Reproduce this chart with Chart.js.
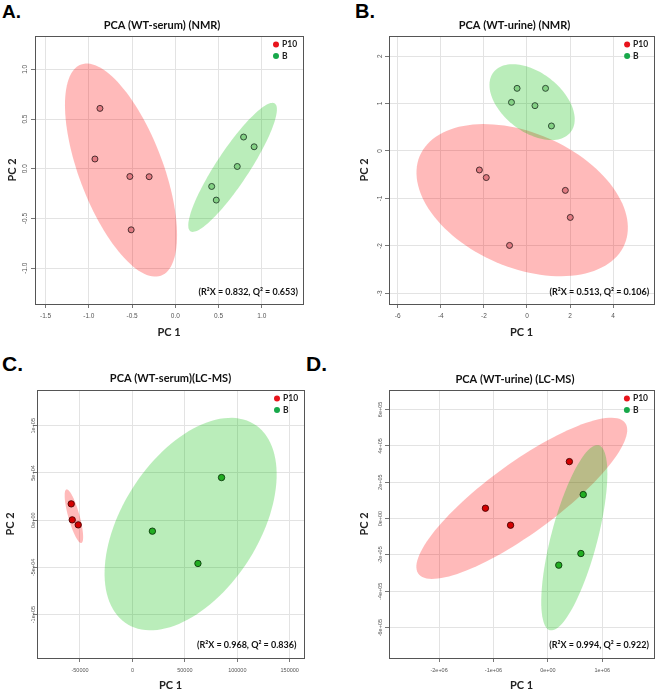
<!DOCTYPE html>
<html lang="en">
<head>
<meta charset="UTF-8">
<title>PCA score plots</title>
<script src="https://cdn.jsdelivr.net/npm/chart.js"></script>
<style>
  html, body { margin: 0; padding: 0; background: #fff; overflow: hidden; }
  #page { position: relative; width: 658px; height: 690px; }
  canvas { position: absolute; }
  .tag { position: absolute; font: bold 19px "Liberation Sans", Arial, sans-serif; color: #000; line-height: 1; }
</style>
</head>
<body>
<div id="page">
  <div class="tag" style="left:2px;top:2px">A.</div>
  <div class="tag" style="left:355px;top:1px;font-size:20px">B.</div>
  <div class="tag" style="left:2px;top:353px;font-size:21px">C.</div>
  <div class="tag" style="left:306px;top:353px;font-size:21px">D.</div>
  <canvas id="pcaA" width="329" height="345" style="left:0;top:0"></canvas>
  <canvas id="pcaB" width="329" height="345" style="left:329px;top:0"></canvas>
  <canvas id="pcaC" width="329" height="345" style="left:0;top:345px"></canvas>
  <canvas id="pcaD" width="329" height="345" style="left:329px;top:345px"></canvas>
</div>
<script>
// ---- scores (PC1 / PC2) ----
const serumNmrP10X = [-0.872, -0.93, -0.526, -0.303, -0.511];
const serumNmrP10Y = [0.607, 0.098, -0.078, -0.08, -0.614];
const serumNmrBX = [0.789, 0.911, 0.716, 0.42, 0.473];
const serumNmrBY = [0.319, 0.221, 0.023, -0.178, -0.315];

const urineNmrP10X = [-2.21, -1.89, 1.78, 2.01, -0.81];
const urineNmrP10Y = [-0.40, -0.56, -0.83, -1.40, -1.99];
const urineNmrBX = [-0.46, 0.86, -0.72, 0.37, 1.135];
const urineNmrBY = [1.32, 1.32, 1.025, 0.955, 0.527];

const serumLcP10X = [-58350, -57400, -51700];
const serumLcP10Y = [17280, 350, -4940];
const serumLcBX = [19020, 84970, 62460];
const serumLcBY = [-11640, 45150, -45860];

const urineLcP10X = [-1148000, -686000, 395000];
const urineLcP10Y = [56800, -36600, 313200];
const urineLcBX = [650000, 607000, 200000];
const urineLcBY = [131900, -192300, -256400];

// ---- axes ----
const serumNmrXTicks = [-1.5, -1, -0.5, 0, 0.5, 1];
const serumNmrYTicks = [-1, -0.5, 0, 0.5, 1];
const serumNmrXRange = [-1.623, 1.476];
const serumNmrYRange = [-1.36, 1.335];

const urineNmrXTicks = [-6, -4, -2, 0, 2, 4];
const urineNmrYTicks = [-3, -2, -1, 0, 1, 2];
const urineNmrXRange = [-6.405, 5.9];
const urineNmrYRange = [-3.224, 2.423];

const serumLcXTicks = [-50000, 0, 50000, 100000, 150000];
const serumLcYTicks = [-100000, -50000, 0, 50000, 100000];
const serumLcXRange = [-91000, 163600];
const serumLcYRange = [-146000, 137900];

const urineLcXTicks = [-2000000, -1000000, 0, 1000000];
const urineLcYTicks = [-600000, -400000, -200000, 0, 200000, 400000, 600000];
const urineLcXRange = [-2921000, 1949000];
const urineLcYRange = [-767000, 707000];

const groupNames = ['P10', 'B'];

// R style tick labels
const fmt = {
  one: v => v.toFixed(1),
  int: v => String(v),
  sci: v => {
    const [m, e] = v.toExponential(0).split('e');
    return m + 'e' + (+e < 0 ? '-' : '+') + String(Math.abs(+e)).padStart(2, '0');
  }
};

const zip = (xs, ys) => xs.map((x, i) => ({ x: x, y: ys[i] }));
const R95 = Math.sqrt(5.991); // chi-square 95%, 2 df

// 95% normal ellipse around each group + frame, title, legend, labels
const pcaDecor = {
  id: 'pcaDecor',
  beforeDatasetsDraw(chart) {
    const { ctx, chartArea: a, scales: { x, y } } = chart;
    ctx.save();
    ctx.beginPath();
    ctx.rect(a.left, a.top, a.right - a.left, a.bottom - a.top);
    ctx.clip();
    chart.data.datasets.forEach(ds => {
      const n = ds.data.length;
      const mx = ds.data.reduce((s, p) => s + p.x, 0) / n;
      const my = ds.data.reduce((s, p) => s + p.y, 0) / n;
      let sxx = 0, syy = 0, sxy = 0;
      ds.data.forEach(p => {
        sxx += (p.x - mx) ** 2; syy += (p.y - my) ** 2; sxy += (p.x - mx) * (p.y - my);
      });
      sxx /= n - 1; syy /= n - 1; sxy /= n - 1;
      const mid = (sxx + syy) / 2, dif = Math.sqrt(((sxx - syy) / 2) ** 2 + sxy ** 2);
      const a1 = Math.sqrt(mid + dif) * R95, a2 = Math.sqrt(Math.max(mid - dif, 0)) * R95;
      const th = 0.5 * Math.atan2(2 * sxy, sxx - syy);
      ctx.beginPath();
      for (let i = 0; i <= 120; i++) {
        const t = i / 120 * 2 * Math.PI;
        const dx = a1 * Math.cos(t) * Math.cos(th) - a2 * Math.sin(t) * Math.sin(th);
        const dy = a1 * Math.cos(t) * Math.sin(th) + a2 * Math.sin(t) * Math.cos(th);
        const px = x.getPixelForValue(mx + dx), py = y.getPixelForValue(my + dy);
        if (i === 0) ctx.moveTo(px, py); else ctx.lineTo(px, py);
      }
      ctx.closePath();
      ctx.fillStyle = ds.ellipseColor;
      ctx.fill();
    });
    ctx.restore();
  },
  afterDraw(chart, args, o) {
    const { ctx, chartArea: a, scales: { y } } = chart;
    ctx.save();
    ctx.strokeStyle = '#555';
    ctx.lineWidth = 1;
    ctx.strokeRect(Math.round(a.left) + 0.5, Math.round(a.top) + 0.5,
      Math.round(a.right - a.left), Math.round(a.bottom - a.top));

    ctx.fillStyle = '#111';
    ctx.font = 'bold 11px Lato, "Open Sans", sans-serif';
    ctx.textAlign = 'center';
    ctx.textBaseline = 'middle';
    ctx.fillText(o.title, (a.left + a.right) / 2 + o.titleDx, o.titleY);

    // y tick labels, rotated like R
    ctx.fillStyle = '#555';
    ctx.font = o.tickSize + 'px "Liberation Sans", Arial, sans-serif';
    y.ticks.forEach(t => {
      ctx.save();
      ctx.translate(a.left - o.yLabelGap, y.getPixelForValue(t.value));
      ctx.rotate(-Math.PI / 2);
      ctx.fillText(o.yFormat(t.value), 0, 0);
      ctx.restore();
    });

    // legend
    ctx.font = 'bold 8.5px Lato, "Open Sans", sans-serif';
    ctx.textAlign = 'left';
    chart.data.datasets.forEach((ds, i) => {
      const cy = a.top + 8.5 + i * 11.5, cx = a.right - 27;
      ctx.beginPath();
      ctx.arc(cx, cy, 3, 0, 2 * Math.PI);
      ctx.fillStyle = ds.legendColor;
      ctx.fill();
      ctx.fillStyle = '#222';
      ctx.fillText(ds.label, cx + 6, cy);
    });

    ctx.font = 'bold 9px Lato, "Open Sans", sans-serif';
    ctx.textAlign = 'right';
    ctx.fillStyle = '#111';
    ctx.fillText(o.note, a.right - o.noteDx, a.bottom - o.noteDy);
    ctx.restore();
  }
};

function pcaChart(id, d, p) {
  const axisTitle = (text, pad) => ({
    display: true, text: text, color: '#222',
    font: { family: 'Lato, "Open Sans", sans-serif', size: 11, weight: 'bold' },
    padding: pad
  });
  const grid = { color: '#e3e3e3', tickColor: '#777', tickLength: 4, lineWidth: 1 };
  return new Chart(document.getElementById(id), {
    type: 'scatter',
    data: {
      datasets: [
        { label: groupNames[0], data: zip(d.p10x, d.p10y), backgroundColor: p.red, borderColor: p.redEdge,
          ellipseColor: 'rgba(255,0,0,0.27)', legendColor: '#e8141c' },
        { label: groupNames[1], data: zip(d.bx, d.by), backgroundColor: p.green, borderColor: p.greenEdge,
          ellipseColor: 'rgba(0,190,0,0.27)', legendColor: '#17a84a' }
      ]
    },
    options: {
      responsive: false,
      devicePixelRatio: 1,
      animation: false,
      layout: { padding: { left: 0, right: p.padRight, top: p.padTop, bottom: 0 } },
      elements: { point: { radius: p.radius, borderWidth: 0.9, hoverRadius: p.radius } },
      scales: {
        x: {
          type: 'linear', min: d.xRange[0], max: d.xRange[1],
          afterBuildTicks: s => { s.ticks = d.xTicks.map(v => ({ value: v })); },
          afterFit: s => { s.height = p.xHeight; },
          ticks: { callback: v => d.xFormat(v), color: '#555', padding: p.tickPad,
            font: { family: '"Liberation Sans", Arial, sans-serif', size: p.tickSize }, maxRotation: 0 },
          grid: grid,
          border: { display: false },
          title: axisTitle('PC 1', { top: 0, bottom: p.xTitlePad })
        },
        y: {
          type: 'linear', min: d.yRange[0], max: d.yRange[1],
          afterBuildTicks: s => { s.ticks = d.yTicks.map(v => ({ value: v })); },
          afterFit: s => { s.width = p.yWidth; },
          ticks: { display: false },
          grid: grid,
          border: { display: false },
          title: axisTitle('PC 2', { top: p.yTitlePad, bottom: 0 })
        }
      },
      plugins: {
        legend: { display: false },
        tooltip: { enabled: false },
        pcaDecor: {
          title: d.title, note: d.note, yFormat: d.yFormat,
          titleY: p.titleY, titleDx: p.titleDx, yLabelGap: p.yLabelGap, tickSize: p.tickSize,
          noteDx: p.noteDx, noteDy: p.noteDy
        }
      }
    },
    plugins: [pcaDecor]
  });
}

const nmrLook = { red: '#e17b82', redEdge: '#3b2224', green: '#84d184', greenEdge: '#24402a', radius: 3 };
const lcLook = { red: '#d40000', redEdge: '#4a0000', green: '#22ad22', greenEdge: '#0c3a0c', radius: 3.2 };

pcaChart('pcaA', {
  title: 'PCA (WT-serum) (NMR)', note: '(R\u00B2X = 0.832, Q\u00B2 = 0.653)',
  p10x: serumNmrP10X, p10y: serumNmrP10Y, bx: serumNmrBX, by: serumNmrBY,
  xTicks: serumNmrXTicks, yTicks: serumNmrYTicks, xRange: serumNmrXRange, yRange: serumNmrYRange,
  xFormat: fmt.one, yFormat: fmt.one
}, Object.assign({ padRight: 26, padTop: 36, yWidth: 35, xHeight: 41, yTitlePad: 5.4, xTitlePad: 6.4,
  titleY: 25, titleDx: -7, yLabelGap: 10, tickSize: 6.5, tickPad: 4.5, noteDx: 5, noteDy: 12 }, nmrLook));

pcaChart('pcaB', {
  title: 'PCA (WT-urine) (NMR)', note: '(R\u00B2X = 0.513, Q\u00B2 = 0.106)',
  p10x: urineNmrP10X, p10y: urineNmrP10Y, bx: urineNmrBX, by: urineNmrBY,
  xTicks: urineNmrXTicks, yTicks: urineNmrYTicks, xRange: urineNmrXRange, yRange: urineNmrYRange,
  xFormat: fmt.int, yFormat: fmt.int
}, Object.assign({ padRight: 2, padTop: 36, yWidth: 60, xHeight: 41, yTitlePad: 29, xTitlePad: 6.4,
  titleY: 25, titleDx: -7, yLabelGap: 9, tickSize: 6.5, tickPad: 4.5, noteDx: 5, noteDy: 12 }, nmrLook));

pcaChart('pcaC', {
  title: 'PCA (WT-serum)(LC-MS)', note: '(R\u00B2X = 0.968, Q\u00B2 = 0.836)',
  p10x: serumLcP10X, p10y: serumLcP10Y, bx: serumLcBX, by: serumLcBY,
  xTicks: serumLcXTicks, yTicks: serumLcYTicks, xRange: serumLcXRange, yRange: serumLcYRange,
  xFormat: fmt.int, yFormat: fmt.sci
}, Object.assign({ padRight: 25, padTop: 45, yWidth: 37, xHeight: 32, yTitlePad: 3.4, xTitlePad: -2.5,
  titleY: 33, titleDx: 0, yLabelGap: 4, tickSize: 5.5, tickPad: 5.5, noteDx: 7.5, noteDy: 13 }, lcLook));

pcaChart('pcaD', {
  title: 'PCA (WT-urine) (LC-MS)', note: '(R\u00B2X = 0.994, Q\u00B2 = 0.922)',
  p10x: urineLcP10X, p10y: urineLcP10Y, bx: urineLcBX, by: urineLcBY,
  xTicks: urineLcXTicks, yTicks: urineLcYTicks, xRange: urineLcXRange, yRange: urineLcYRange,
  xFormat: fmt.sci, yFormat: fmt.sci
}, Object.assign({ padRight: 2, padTop: 45, yWidth: 60, xHeight: 32, yTitlePad: 29, xTitlePad: -2.5,
  titleY: 34, titleDx: -6.5, yLabelGap: 8.7, tickSize: 5.5, tickPad: 5.5, noteDx: 5, noteDy: 13 }, lcLook));
</script>
</body>
</html>
